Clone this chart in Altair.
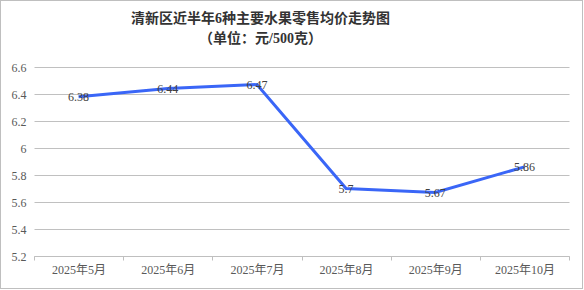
import altair as alt
import pandas as pd

months = ["2025年5月", "2025年6月", "2025年7月", "2025年8月", "2025年9月", "2025年10月"]
prices = [6.38, 6.44, 6.47, 5.7, 5.67, 5.86]
labels = ["6.38", "6.44", "6.47", "5.7", "5.67", "5.86"]
y_ticks = [5.2, 5.4, 5.6, 5.8, 6.0, 6.2, 6.4, 6.6]

df = pd.DataFrame({"month": months, "price": prices, "label": labels})

FONT = "Liberation Serif, Noto Sans CJK SC"
W, H = 535, 189
PL, PT, PR, PB = 34, 67, 15, 34

x = alt.X("month:N", sort=months, title=None,
          scale=alt.Scale(paddingInner=0, paddingOuter=0),
          axis=alt.Axis(labelAngle=0, tickBand="extent", grid=False, domainColor="#bfbfbf",
                        tickColor="#bfbfbf", tickSize=4, labelPadding=4, labelFont=FONT,
                        labelFontSize=12, labelColor="#595959"))
y = alt.Y("price:Q", title=None,
          scale=alt.Scale(domain=[5.2, 6.6], nice=False, zero=False),
          axis=alt.Axis(values=y_ticks, tickCount=10, labelOverlap=False,
                        labelExpr="datum.value == 6 ? '6' : format(datum.value, '.1f')",
                        domain=False, ticks=False, labelPadding=8, gridColor="#c0c0c0",
                        labelFont=FONT, labelFontSize=12, labelColor="#595959"))

base = alt.Chart(df)
line = base.mark_line(color="#3a66f7", strokeWidth=3).encode(x=x, y=y)
text = base.mark_text(font=FONT, fontSize=12, color="#404040", baseline="middle").encode(
    x=alt.X("month:N", sort=months), y="price:Q", text="label:N")
border = base.mark_rect(fill=None, stroke="#bfbfbf", strokeWidth=1).encode(
    x=alt.value(-PL + 0.5), x2=alt.value(W + PR - 1.5),
    y=alt.value(-PT + 0.5), y2=alt.value(H + PB - 1.5))

chart = alt.layer(line, text, border).properties(
    width=W, height=H,
    autosize=alt.AutoSizeParams(type="none"),
    padding={"left": PL, "top": PT, "right": PR, "bottom": PB},
    title=alt.TitleParams(["清新区近半年6种主要水果零售均价走势图", "（单位：元/500克）"],
                          font=FONT, fontSize=14, fontWeight="bold", color="#333333",
                          anchor="middle", dx=-41, dy=50, offset=4, lineHeight=20),
).configure_view(stroke=None)

chart.save("out.html", embed_options={"renderer": "svg", "actions": False})
